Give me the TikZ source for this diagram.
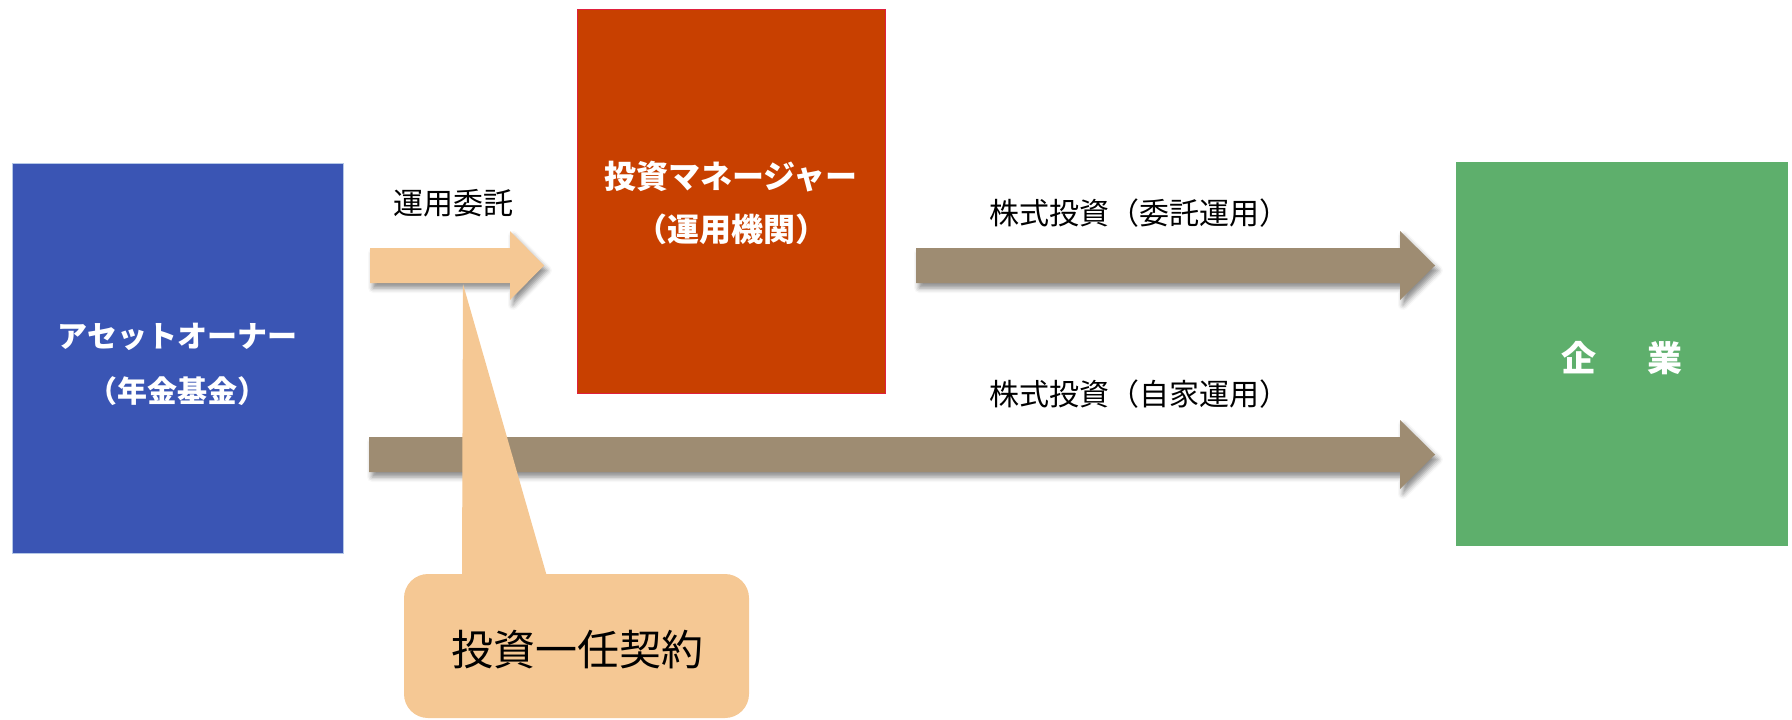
\documentclass[tikz,border=0pt]{standalone}
\usepackage{fontspec}
\newfontfamily\jp{Noto Sans CJK JP}
\usetikzlibrary{shadows.blur}
\definecolor{ownerblue}{HTML}{3A55B4}
\definecolor{ownerline}{HTML}{B4C7E7}
\definecolor{mgrorange}{HTML}{C84000}
\definecolor{mgrline}{HTML}{E0203C}
\definecolor{corpgreen}{HTML}{5EAF6C}
\definecolor{flowtan}{HTML}{9E8C72}
\definecolor{lightorange}{HTML}{F5C894}
\begin{document}
\begin{tikzpicture}[x=1pt,y=-1pt,
  boxnode/.style={rectangle, inner sep=0pt, line width=1pt},
  boxtext/.style={inner sep=0pt, text=white, align=center},
  lbl/.style={inner sep=0pt, text=black, font=\jp\fontsize{30pt}{36pt}\selectfont},
  shad/.style={blur shadow={shadow xshift=3pt, shadow yshift=-5pt, shadow blur radius=5pt, shadow opacity=45}},
  tanarrow/.style={fill=flowtan, draw=none, shad},
  lightarrow/.style={fill=lightorange, draw=none, shad}]
\useasboundingbox (0,0) rectangle (1792,720);

% stock investment arrows
\coordinate (a2s) at (916,265.5);
\coordinate (a2e) at (1435,265.5);
\path[tanarrow] (916,248) -- (1400,248) -- (1400,231) -- (a2e) -- (1400,300) -- (1400,283) -- (916,283) -- cycle;
\coordinate (a3s) at (369,454.5);
\coordinate (a3e) at (1435,454.5);
\path[tanarrow] (369,437) -- (1400,437) -- (1400,420) -- (a3e) -- (1400,489) -- (1400,472) -- (369,472) -- cycle;

% boxes
\node[boxnode, fill=ownerblue, draw=ownerline, minimum width=331pt, minimum height=390pt] (owner) at (177.5,358) {};
\node[boxtext, font=\jp\bfseries\fontsize{30pt}{55pt}\selectfont] (ownertext) at (177.5,364)
  {アセットオーナー\\（年金基金）};
\node[boxnode, fill=mgrorange, draw=mgrline, minimum width=308pt, minimum height=384pt] (mgr) at (731,201) {};
\node[boxtext, font=\jp\bfseries\fontsize{32pt}{53pt}\selectfont] (mgrtext) at (731,203)
  {投資マネージャー\\（運用機関）};
\node[boxnode, fill=corpgreen, draw=none, minimum width=332pt, minimum height=384pt] (corp) at (1622,354) {};
\node[boxtext, font=\jp\bfseries\fontsize{35pt}{40pt}\selectfont] (corptext) at (1622,358)
  {企\hspace{52pt}業};

% entrust arrow
\coordinate (a1e) at (544,265.5);
\path[lightarrow] (370,248) -- (510,248) -- (510,231) -- (a1e) -- (510,300) -- (510,283) -- (370,283) -- cycle;

% labels
\node[lbl] (l1) at (453,203) {運用委託};
\node[lbl] (l2) at (1139,213) {株式投資（委託運用）};
\node[lbl] (l3) at (1139,394) {株式投資（自家運用）};

% callout
\coordinate (ctip) at (463,284);
\fill[lightorange] (462,580) -- (ctip) -- (548,580) -- cycle;
\fill[lightorange, rounded corners=24pt] (404,574) rectangle (749,718);
\node[inner sep=0pt, text=black, font=\jp\fontsize{42pt}{48pt}\selectfont] (contract) at (577,650) {投資一任契約};
\end{tikzpicture}
\end{document}
